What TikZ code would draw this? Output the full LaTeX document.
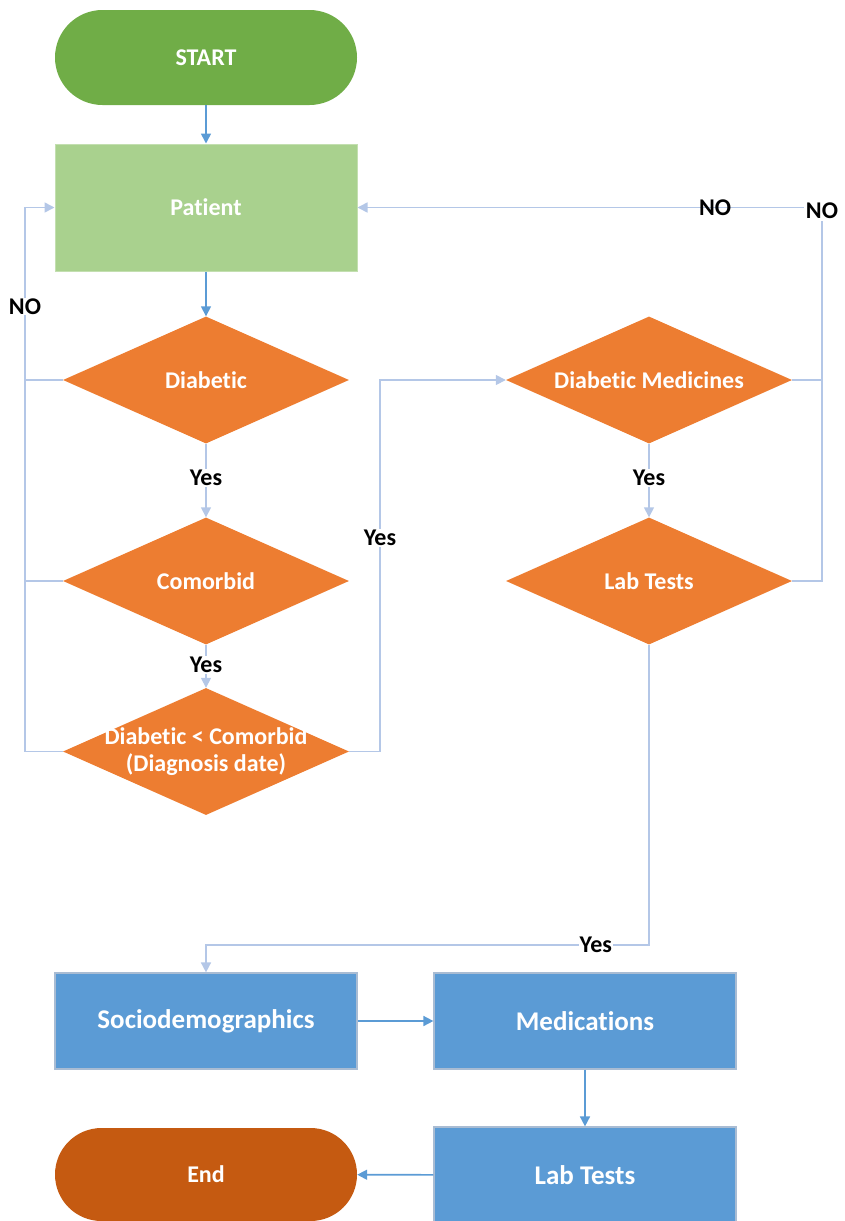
\documentclass[tikz,border=0pt]{standalone}
\usepackage{fontspec}
\setmainfont{Carlito}[Ligatures={NoCommon}]
\usetikzlibrary{shapes.geometric,shapes.misc,arrows.meta}
\definecolor{startgreen}{HTML}{70AD47}
\definecolor{patgreen}{HTML}{A9D18E}
\definecolor{decor}{HTML}{ED7D31}
\definecolor{boxblue}{HTML}{5B9BD5}
\definecolor{boxedge}{HTML}{A9BCD3}
\definecolor{endorange}{HTML}{C55A11}
\definecolor{darkline}{HTML}{5B9BD5}
\definecolor{lightline}{HTML}{B4C7E7}
\tikzset{
  pill/.style={rounded rectangle, minimum width=302pt, minimum height=95pt, inner sep=0pt,
     text=white, font=\fontsize{24}{28}\selectfont\bfseries},
  pbox/.style={rectangle, minimum width=302pt, minimum height=127pt, inner sep=0pt,
     fill=patgreen, draw=patgreen!70!white, line width=1pt, text=white, font=\fontsize{24}{28}\selectfont\bfseries},
  bbox/.style={rectangle, minimum width=302pt, minimum height=96pt, inner sep=0pt,
     fill=boxblue, draw=boxedge, line width=1.2pt, text=white, font=\fontsize{27}{32}\selectfont\bfseries},
  dec/.style={diamond, minimum width=286pt, minimum height=127pt, inner sep=0pt, fill=decor},
  dtext/.style={text=white, font=\fontsize{24}{28}\selectfont\bfseries, align=center},
  lbl/.style={text=black, font=\fontsize{24}{28}\selectfont\bfseries, inner sep=1pt},
  darr/.style={draw=darkline, line width=1.6pt, -{Triangle[length=10pt,width=10pt]}},
  larr/.style={draw=lightline, line width=1.6pt, -{Triangle[length=10pt,width=10pt]}},
  lline/.style={draw=lightline, line width=1.6pt},
}
\begin{document}
\begin{tikzpicture}[x=1pt,y=-1pt]
\useasboundingbox (0,0) rectangle (845,1221);
% nodes
\node[pill, fill=startgreen] (start) at (206,57.5) {START};
\node[pbox] (patient) at (206,207.5) {Patient};
\node[dec, label={[dtext]center:Diabetic}] (d1) at (206,380) {};
\node[dec, label={[dtext]center:Comorbid}] (d2) at (206,581) {};
\node[dec, label={[dtext, font=\fontsize{24}{27}\selectfont\bfseries]center:{Diabetic < Comorbid\\(Diagnosis date)}}] (d3) at (206,751.5) {};
\node[dec, label={[dtext]center:Diabetic Medicines}] (d4) at (649,380) {};
\node[dec, label={[dtext]center:Lab Tests}] (d5) at (649,581) {};
\node[bbox] (socio) at (206,1021) {Sociodemographics};
\node[bbox] (med) at (585,1021) {Medications};
\node[bbox] (lab) at (585,1175) {Lab Tests};
\node[pill, fill=endorange, minimum height=93pt] (end) at (206,1174.5) {End};
% helper coordinates
\coordinate (lx) at (25,0);
\coordinate (mx) at (380,0);
\coordinate (rx) at (822,0);
\coordinate (by) at (0,945);
% main (dark) connectors
\draw[darr] (start) -- (patient);
\draw[darr] (patient) -- (d1);
\draw[darr] (socio) -- (med);
\draw[darr] (med) -- (lab);
\draw[darr] (lab) -- (end);
% yes connectors
\draw[larr] (d1) -- node[lbl, fill=white, pos=0.47] {Yes} (d2);
\draw[larr] (d2) -- node[lbl, fill=white, pos=0.47] {Yes} (d3);
\draw[larr] (d4) -- node[lbl, fill=white, pos=0.47] {Yes} (d5);
\draw[larr] (d3.east) -- (d3.east -| mx) -- node[lbl, fill=white, pos=0.575] {Yes} (d4.west -| mx) -- (d4.west);
\draw[larr] (d5.south) -- (d5.south |- by) -- node[lbl, fill=white, pos=0.12] {Yes} (socio.north |- by) -- (socio.north);
% left NO loop
\draw[lline] (d1.west) -- (d1.west -| lx);
\draw[lline] (d2.west) -- (d2.west -| lx);
\draw[larr] (d3.west) -- (d3.west -| lx) -- node[lbl, fill=white, pos=0.818] {NO} (patient.west -| lx) -- (patient.west);
% right NO loop
\draw[lline] (d4.east) -- (d4.east -| rx);
\draw[larr] (d5.east) -- (d5.east -| rx) -- (patient.east -| rx) -- node[lbl, pos=0.23] {NO} (patient.east);
\node[lbl, fill=white, inner sep=2pt] (nocorner) at (822,211) {NO};
\end{tikzpicture}
\end{document}
